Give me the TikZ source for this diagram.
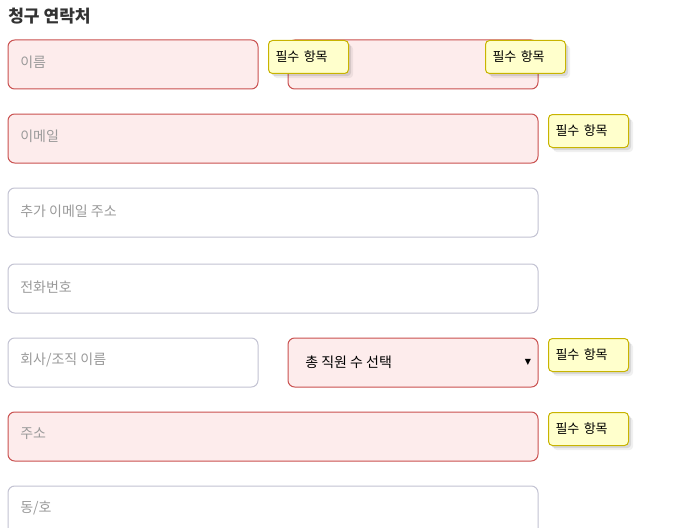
\documentclass[tikz,border=0pt]{standalone}
\usepackage{fontspec}
\setmainfont{Noto Sans CJK KR}
\newfontfamily\symfont{DejaVu Sans}
\usetikzlibrary{shadows}
\definecolor{reqline}{HTML}{C9504F}
\definecolor{reqfill}{HTML}{FDECEC}
\definecolor{optline}{HTML}{C2C2D2}
\definecolor{hintgray}{HTML}{9A9A9A}
\definecolor{tipfill}{HTML}{FFFFCC}
\definecolor{tipline}{HTML}{C8B400}
\definecolor{headgray}{HTML}{333333}
\begin{document}
\begin{tikzpicture}[x=0.75pt,y=-0.75pt,
    reqbox/.style={draw=reqline, fill=reqfill, rounded corners=5pt, line width=0.75pt},
    optbox/.style={draw=optline, fill=white, rounded corners=5pt, line width=0.75pt},
    hint/.style={anchor=west, inner sep=0pt, text=hintgray, font=\fontsize{10.5}{12}\selectfont},
    tip/.style={anchor=north west, draw=tipline, fill=tipfill, rounded corners=3pt, line width=0.75pt,
        text width=49.5pt, inner xsep=5.25pt, inner ysep=0pt, minimum height=24.75pt, align=left,
        font=\fontsize{9.75}{11}\selectfont,
        drop shadow={shadow xshift=3.5pt, shadow yshift=-3.5pt, fill=black, opacity=0.06},
        drop shadow={shadow xshift=2pt, shadow yshift=-2pt, fill=black, opacity=0.10}}]
    \useasboundingbox (0,0) rectangle (696,528);
    \clip (0,0) rectangle (696,528);
    % heading
    \node[anchor=west, inner sep=0pt, text=headgray, font=\fontsize{12.8}{14}\bfseries] (head) at (8,16) {청구 연락처};
    % input fields
    \draw[reqbox] (8,40) rectangle (258,89);
    \draw[reqbox] (288,40) rectangle (538,89);
    \draw[reqbox] (8,114) rectangle (538,163);
    \draw[optbox] (8,188) rectangle (538,237);
    \draw[optbox] (8,264) rectangle (538,313);
    \draw[optbox] (8,338) rectangle (258,387);
    \draw[reqbox] (288,338) rectangle (538,387);
    \draw[reqbox] (8,412) rectangle (538,461);
    \draw[optbox] (8,486) rectangle (538,540);
    % placeholders
    \node[hint] (name) at (20,62) {이름};
    \node[hint] (mail) at (20,136) {이메일};
    \node[hint] (mail2) at (20,211) {추가 이메일 주소};
    \node[hint] (phone) at (20,287) {전화번호};
    \node[hint] (org) at (20,360) {회사/조직 이름};
    \node[hint, text=black] (staff) at (305,362) {총 직원 수 선택};
    \node[inner sep=0pt, font=\symfont\fontsize{6}{6}\selectfont] (drop) at (528,362) {▼};
    \node[hint] (addr) at (20,434) {주소};
    \node[hint] (unit) at (20,508) {동/호};
    % tooltips
    \node[tip] (tip1) at (268,40) {필수 항목};
    \node[tip] (tip2) at (485,40) {필수 항목};
    \node[tip] (tip3) at (548,114) {필수 항목};
    \node[tip] (tip4) at (548,338) {필수 항목};
    \node[tip] (tip5) at (548,412) {필수 항목};
\end{tikzpicture}
\end{document}
